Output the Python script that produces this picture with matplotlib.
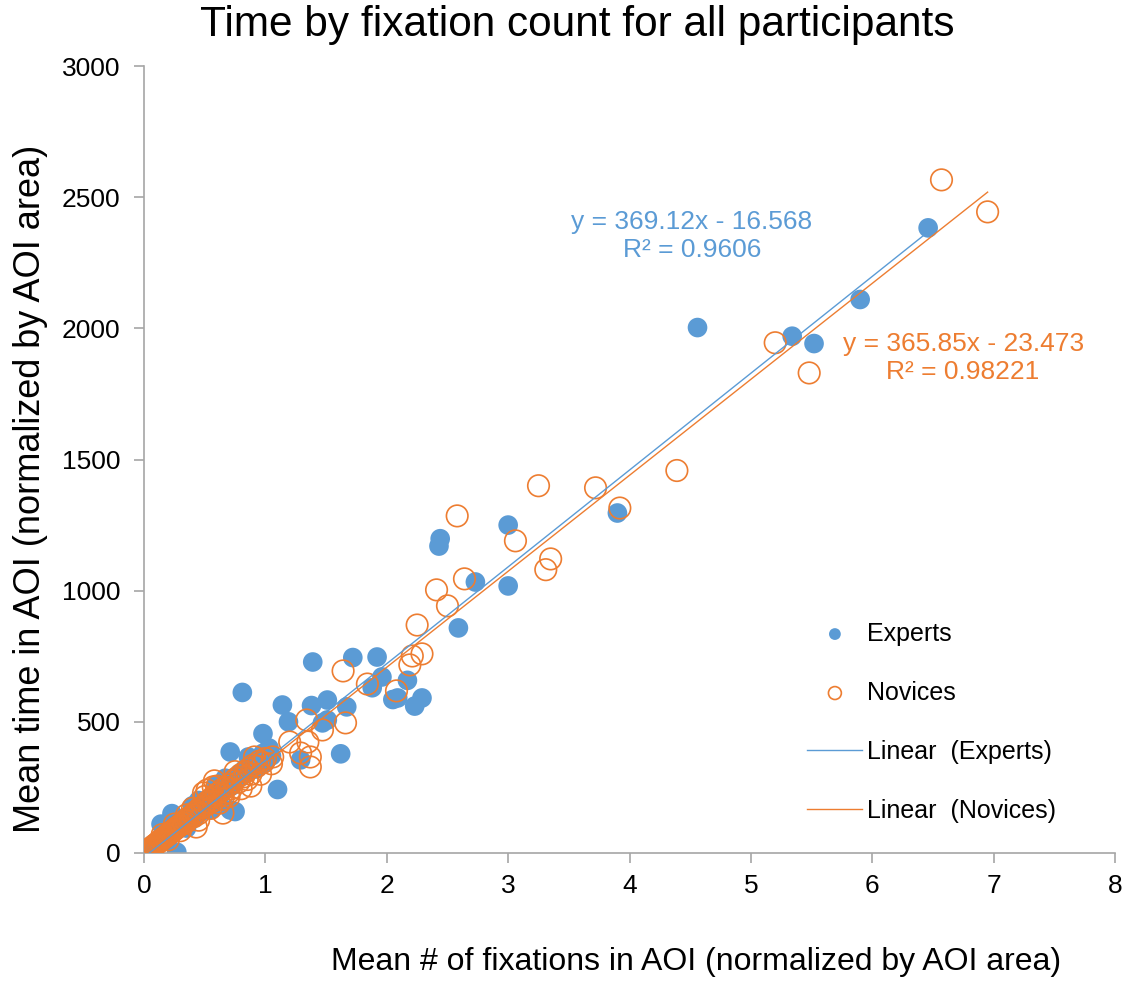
import matplotlib.pyplot as plt
import numpy as np

plt.rcParams['font.family'] = ['Liberation Sans', 'DejaVu Sans']

# experts: mean fixations (x) vs mean time (y), normalized by AOI area
experts_x = [6.46, 5.90, 5.52, 5.34, 4.56, 3.90, 3.00, 3.00, 2.73, 2.59, 2.44, 2.43,
             2.29, 2.23, 2.17, 2.09, 2.05, 1.92, 1.96, 1.88, 1.72, 1.67, 1.62, 1.51,
             1.51, 1.39, 1.38, 1.14, 1.19, 1.47, 1.29, 0.98, 0.81, 0.71, 0.86, 1.10,
             0.27, 0.23, 0.14, 0.75, 0.67, 0.71,
             0.02, 0.04, 0.06, 0.08, 0.10, 0.12, 0.15, 0.18, 0.20, 0.22, 0.25, 0.28,
             0.30, 0.33, 0.35, 0.38, 0.40, 0.42, 0.45, 0.48, 0.50, 0.52, 0.55, 0.58,
             0.60, 0.62, 0.65, 0.68, 0.70, 0.72, 0.75, 0.78, 0.80, 0.83, 0.85, 0.88,
             0.90, 0.92, 0.95, 0.98, 1.00, 1.03, 1.05, 0.45, 0.55, 0.35, 0.60, 0.25,
             0.40]
experts_y = [2383, 2110, 1942, 1970, 2003, 1296, 1250, 1018, 1033, 858, 1198, 1170,
             591, 560, 658, 591, 585, 747, 671, 630, 745, 557, 378, 583,
             507, 728, 562, 564, 500, 496, 355, 455, 612, 385, 366, 242,
             3, 150, 110, 158, 285, 164,
             5, 12, 18, 25, 35, 40, 48, 60, 70, 75, 85, 95,
             110, 118, 125, 140, 150, 135, 170, 160, 190, 175, 210, 200,
             230, 215, 240, 250, 270, 255, 280, 300, 290, 320, 310, 335,
             350, 320, 360, 380, 345, 400, 370, 200, 165, 95, 260, 110,
             180]

novices_x = [6.57, 6.95, 5.20, 5.48, 4.39, 3.92, 3.72, 3.25, 3.06, 3.35, 3.31, 2.58,
             2.64, 2.41, 2.50, 2.25, 2.21, 2.29, 2.19, 1.64, 1.84, 2.08, 1.66, 1.34,
             1.47, 1.35, 1.37, 1.37, 1.20, 1.29, 1.06, 0.91, 0.57, 0.49, 0.65, 0.43,
             0.00, 0.01, 0.02, 0.03, 0.04, 0.05, 0.06, 0.07, 0.08, 0.09, 0.10, 0.11,
             0.12, 0.13, 0.14, 0.15, 0.16, 0.17, 0.18, 0.19, 0.20, 0.21, 0.22, 0.23,
             0.24, 0.25, 0.26, 0.27, 0.28, 0.29, 0.30, 0.32, 0.33, 0.34, 0.35, 0.36,
             0.38, 0.40, 0.41, 0.42, 0.44, 0.45, 0.46, 0.48, 0.50, 0.52, 0.54, 0.55,
             0.57, 0.58, 0.60, 0.62, 0.64, 0.65, 0.68, 0.70, 0.72, 0.74, 0.76, 0.78,
             0.80, 0.82, 0.84, 0.86, 0.88, 0.90, 0.93, 0.95, 0.98, 1.00, 1.05, 0.15,
             0.20, 0.25, 0.30, 0.35, 0.45, 0.50, 0.55, 0.60, 0.65, 0.40, 0.70, 0.85,
             0.52, 0.62, 0.75, 0.88, 0.96, 0.58, 0.70, 0.80]
novices_y = [2566, 2444, 1945, 1830, 1458, 1315, 1392, 1400, 1190, 1121, 1080, 1285,
             1045, 1003, 942, 869, 751, 759, 717, 694, 644, 618, 496, 507,
             469, 423, 366, 328, 423, 381, 366, 366, 252, 229, 152, 99,
             0, 3, 6, 10, 12, 16, 20, 22, 28, 30, 34, 38,
             42, 44, 50, 52, 57, 60, 63, 68, 70, 74, 78, 82,
             86, 88, 94, 97, 100, 103, 108, 115, 112, 125, 120, 132,
             135, 145, 138, 155, 160, 150, 172, 175, 180, 195, 190, 205,
             215, 200, 225, 230, 220, 245, 250, 260, 245, 275, 285, 270,
             300, 290, 310, 320, 300, 335, 330, 350, 345, 360, 340, 70,
             50, 110, 85, 145, 125, 215, 170, 255, 205, 170, 230, 280,
             240, 190, 310, 255, 300, 275, 215, 245]

# trendline coefficients as reported on the chart
fit_experts = (369.12, -16.568, 0.9606)
fit_novices = (365.85, -23.473, 0.98221)

blue = '#5B9BD5'
orange = '#ED7D31'
gray = '#A6A6A6'

fig = plt.figure(figsize=(11.27, 9.81), dpi=100)
ax = fig.add_axes([0.1278, 0.1305, 0.8616, 0.8022])

ax.scatter(experts_x, experts_y, s=200, color=blue, edgecolors='none',
           label='Experts', zorder=2)
ax.scatter(novices_x, novices_y, s=240, facecolors='none', edgecolors=orange,
           linewidths=1.2, label='Novices', zorder=3)

xe = np.array([min(experts_x), max(experts_x)])
xn = np.array([min(novices_x), max(novices_x)])
ax.plot(xe, fit_experts[0] * xe + fit_experts[1], color=blue, lw=1.0,
        label='Linear  (Experts)', zorder=4)
ax.plot(xn, fit_novices[0] * xn + fit_novices[1], color=orange, lw=1.0,
        label='Linear  (Novices)', zorder=4)

ax.set_xlim(0, 8)
ax.set_ylim(0, 3000)
ax.set_xticks(range(0, 9))
ax.set_yticks(range(0, 3001, 500))
for s in ['top', 'right']:
    ax.spines[s].set_visible(False)
for s in ['left', 'bottom']:
    ax.spines[s].set_color(gray)
    ax.spines[s].set_linewidth(1.2)
ax.tick_params(axis='both', colors=gray, length=7, width=1.2, labelsize=19,
               labelcolor='black')
ax.tick_params(axis='x', pad=8)
ax.tick_params(axis='y', pad=10)

# trendline equations (positions in data units)
ax.text(4.515, 2352, 'y = 369.12x - 16.568\nR² = %.4f' % fit_experts[2],
        color=blue, fontsize=19, ha='center', va='center', linespacing=1.25)
ax.text(6.748, 1887, 'y = 365.85x - 23.473\nR² = %.5f' % fit_novices[2],
        color=orange, fontsize=19, ha='center', va='center', linespacing=1.25)

fig.text(0.512, 0.975, 'Time by fixation count for all participants',
         fontsize=30.5, ha='center', va='center')
fig.text(0.618, 0.019, 'Mean # of fixations in AOI (normalized by AOI area)',
         fontsize=23, ha='center', va='center')
fig.text(0.0275, 0.5015, 'Mean time in AOI (normalized by AOI area)',
         fontsize=26, ha='center', va='center', rotation=90)

leg = ax.legend(loc='lower left', bbox_to_anchor=(0.66, 0.01), frameon=False,
                fontsize=18, labelspacing=1.4, handlelength=2.2,
                handletextpad=0.2, markerscale=0.6)

fig.savefig('out.png', dpi=100)
